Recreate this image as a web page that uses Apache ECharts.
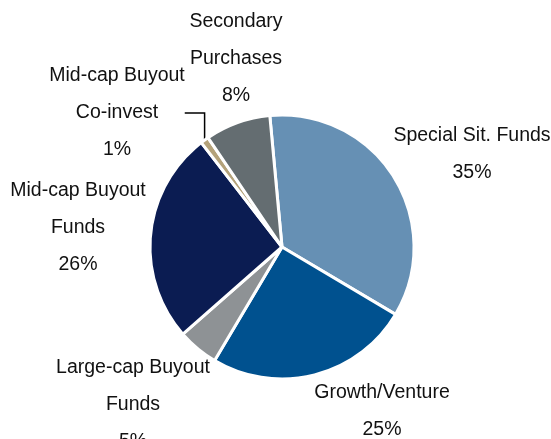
<!DOCTYPE html>
<html>
<head>
<meta charset="utf-8">
<script src="https://cdn.jsdelivr.net/npm/echarts@6/dist/echarts.min.js"></script>
<style>
html,body{margin:0;padding:0;background:#fff;}
#chart{width:551px;height:439px;}
</style>
</head>
<body>
<div id="chart"></div>
<script>
var categories = ['Special Sit. Funds', 'Growth/Venture', 'Large-cap Buyout\nFunds', 'Mid-cap Buyout\nFunds', 'Mid-cap Buyout\nCo-invest', 'Secondary\nPurchases'];
var values = [35, 25, 5, 26, 1, 8];
var colors = ['#6690B4', '#00518F', '#8E9295', '#0B1C52', '#B4A27A', '#646D71'];
var labelPos = [[472, 154], [382, 411], [133, 405], [78, 228], [117, 113], [236, 59]];

var chart = echarts.init(document.getElementById('chart'), null, {renderer: 'canvas'});
var data = categories.map(function (c, i) {
  var item = {name: c, value: values[i], itemStyle: {color: colors[i]}};
  if (i === 4) {
    item.labelLine = {show: true, lineStyle: {color: '#000', width: 1.5}};
  }
  return item;
});
chart.setOption({
  animation: false,
  backgroundColor: '#fff',
  series: [{
    type: 'pie',
    center: [282, 247],
    radius: 132,
    startAngle: 95.3,
    clockwise: true,
    avoidLabelOverlap: false,
    itemStyle: {borderColor: '#fff', borderWidth: 3},
    label: {
      show: true,
      position: 'outside',
      formatter: '{b}\n{d}%',
      color: '#111',
      fontSize: 19.5,
      lineHeight: 37,
      align: 'center',
      fontFamily: '"Liberation Sans Narrow", "Arial Narrow", "Liberation Sans", Arial, sans-serif'
    },
    labelLine: {show: false},
    labelLayout: function (p) {
      var pos = labelPos[p.dataIndex];
      return {x: pos[0], y: pos[1], align: 'center', verticalAlign: 'middle'};
    },
    data: data
  }]
});
</script>
</body>
</html>
